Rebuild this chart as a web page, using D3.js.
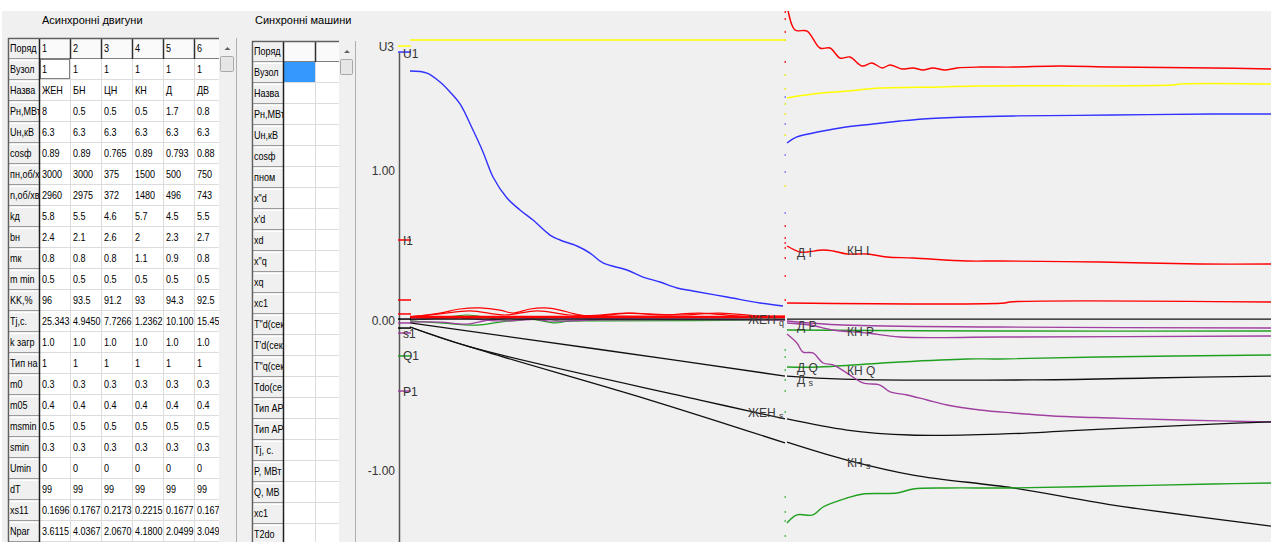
<!DOCTYPE html>
<html><head><meta charset="utf-8">
<script src="https://cdn.jsdelivr.net/npm/d3@7"></script>
<style>
body{margin:0;background:#fff;overflow:hidden}
svg{display:block;font-family:"Liberation Sans",Arial,sans-serif}
</style></head>
<body><svg id="c" width="1271" height="542"></svg>
<script>
// ---------------- TABLE DATA ----------------
const asyncTitle = "Асинхронні двигуни";
const asyncCorner = "Поряд";
const asyncCols = ["1","2","3","4","5","6"];
const asyncRowHeads = ["Вузол","Назва","Рн,МВт","Uн,кВ","cosф","пн,об/хв","n,об/хв","kд","bн","mк","m min","KK,%","Tj,c.","k загр","Тип нав","m0","m05","msmin","smin","Umin","dT","xs11","Npar"];
const asyncValues = [
  ["1","1","1","1","1","1"],
  ["ЖЕН","БН","ЦН","КН","Д","ДВ"],
  ["8","0.5","0.5","0.5","1.7","0.8"],
  ["6.3","6.3","6.3","6.3","6.3","6.3"],
  ["0.89","0.89","0.765","0.89","0.793","0.88"],
  ["3000","3000","375","1500","500","750"],
  ["2960","2975","372","1480","496","743"],
  ["5.8","5.5","4.6","5.7","4.5","5.5"],
  ["2.4","2.1","2.6","2","2.3","2.7"],
  ["0.8","0.8","0.8","1.1","0.9","0.8"],
  ["0.5","0.5","0.5","0.5","0.5","0.5"],
  ["96","93.5","91.2","93","94.3","92.5"],
  ["25.343","4.9450","7.7266","1.2362","10.100","15.455"],
  ["1.0","1.0","1.0","1.0","1.0","1.0"],
  ["1","1","1","1","1","1"],
  ["0.3","0.3","0.3","0.3","0.3","0.3"],
  ["0.4","0.4","0.4","0.4","0.4","0.4"],
  ["0.5","0.5","0.5","0.5","0.5","0.5"],
  ["0.3","0.3","0.3","0.3","0.3","0.3"],
  ["0","0","0","0","0","0"],
  ["99","99","99","99","99","99"],
  ["0.1696","0.1767","0.2173","0.2215","0.1677","0.1677"],
  ["3.6115","4.0367","2.0670","4.1800","2.0499","3.0499"]
];
const syncTitle = "Синхронні машини";
const syncCols = ["",""];
const syncRowHeads = ["Вузол","Назва","Рн,МВт","Uн,кВ","cosф","пном","x\"d","x'd","xd","x\"q","xq","xc1","T\"d(сек)","T'd(сек)","T\"q(сек)","Tdo(сек)","Тип АРВ","Тип АРВ","Tj, с.","P, МВт","Q, МВАр","xc1","T2do"];

// ---------------- CHART DATA ----------------
// time [s] , value [p.u.]; left window 0..1.5, right window 0..2
const yTicks = [-1, 0, 1];
const U3_left = [[0,1.873],[1.5,1.873]];
const U1_left = [[0,1.667],[.068,1.653],[.12,1.593],[.16,1.527],[.2,1.447],[.252,1.273],[.292,1.127],[.332,.96],[.388,.82],[.44,.74],[.492,.673],[.56,.573],[.6,.54],[.668,.5],[.72,.453],[.772,.387],[.868,.34],[.932,.293],[1.0,.26],[1.068,.22],[1.132,.2],[1.268,.16],[1.4,.12],[1.492,.1]];
const Izero_left = [[0,.027],[1.5,.027]];
const I2_left = [[0,.027],[.12,.053],[.2,.08],[.28,.087],[.36,.073],[.412,.053],[.48,.08],[.54,.087],[.6,.073],[.66,.047],[.72,.033],[.88,.053],[.96,.047],[1.08,.04],[1.24,.053],[1.4,.033],[1.5,.033]];
const I3_left = [[0,.027],[.12,.047],[.24,.067],[.38,.04],[.508,.067],[.64,.04],[.76,.033],[1.5,.027]];
const I4_left = [[0,.02],[.6,.027],[.76,.04],[.868,.053],[1.0,.04],[1.16,.053],[1.32,.033],[1.5,.027]];
const Q1_left = [[0,.007],[.12,.02],[.228,.04],[.32,.02],[.4,0],[.52,.02],[.6,0],[.76,.007],[1.5,.007]];
const Q2_left = [[0,0],[.12,-.013],[.268,-.027],[.36,-.007],[.48,.013],[.58,-.013],[.64,0],[.76,0],[1.5,.007]];
const P1_left = [[0,-.007],[.12,-.007],[.228,-.02],[.32,.007],[.44,.02],[.56,0],[.76,.007],[1.5,.007]];
const P2_left = [[0,.007],[.2,.02],[.36,0],[.52,.013],[1.5,.007]];
const q0_left = [[0,.013],[1.5,.013]];
const sD_left = [[0,-.013],[.76,-.19],[1.5,-.367]];
const sZhen_left = [[0,-.04],[.24,-.173],[1.16,-.527],[1.5,-.653]];
const sKN_left = [[0,-.04],[.24,-.173],[.96,-.527],[1.5,-.813]];

const Itop_right = [[0,2.11],[.033,1.94],[.083,1.933],[.136,1.82],[.178,1.82],[.219,1.753],[.26,1.76],[.31,1.7],[.351,1.72],[.393,1.687],[.426,1.707],[.475,1.68],[.521,1.687],[.562,1.673],[.603,1.687],[.653,1.673],[.702,1.687],[.798,1.693],[.934,1.693],[1.128,1.7],[1.347,1.693],[1.76,1.687],[2,1.68]];
const U3_right = [[0,1.487],[.107,1.513],[.248,1.533],[.384,1.553],[.632,1.56],[.798,1.567],[1.595,1.573],[1.624,1.58],[2,1.58]];
const U1_right = [[0,1.187],[.041,1.227],[.107,1.253],[.219,1.287],[.355,1.313],[.467,1.333],[.562,1.347],[.744,1.36],[.934,1.367],[1.347,1.373],[1.76,1.38],[2,1.38]];
const IDKN_right = [[0,.5],[.054,.46],[.083,.46],[.149,.473],[.19,.467],[.248,.447],[.331,.447],[.413,.427],[.521,.42],[.744,.4],[.88,.4],[1.293,.393],[1.707,.38],[2,.38]];
const Ilow_right = [[0,.12],[.9,.12],[.92,.127],[2,.127]];
const q0_right = [[0,.013],[2,.013]];
const PD_right = [[0,0],[.231,-.027],[.88,-.04],[2,-.047]];
const PKN_right = [[0,-.013],[.095,-.027],[.19,-.06],[.331,-.08],[.467,-.107],[.88,-.107],[2,-.1]];
const Qflat_right = [[0,-.06],[.88,-.067],[2,-.067]];
const QD_right = [[0,-.307],[.124,-.307],[.331,-.287],[.467,-.273],[.744,-.253],[.88,-.253],[1.293,-.24],[2,-.227]];
const sD_right = [[0,-.367],[.23,-.387],[1.0,-.393],[1.5,-.38],[2,-.367]];
const PKNbig_right = [[0,-.087],[.041,-.147],[.066,-.207],[.107,-.213],[.149,-.28],[.19,-.293],[.248,-.347],[.314,-.413],[.384,-.427],[.426,-.473],[.496,-.493],[.579,-.527],[.661,-.56],[.798,-.593],[.934,-.613],[1.099,-.633],[1.347,-.647],[1.624,-.66],[2,-.673]];
const sZhen_right = [[0,-.653],[.248,-.727],[.508,-.76],[.893,-.753],[1.157,-.733],[1.488,-.707],[1.76,-.687],[2,-.673]];
const sKN_right = [[0,-.807],[.248,-.927],[.521,-1.027],[.934,-1.113],[1.347,-1.227],[2,-1.367]];
const QKN_right = [[0,-1.347],[.041,-1.293],[.107,-1.293],[.149,-1.24],[.248,-1.18],[.314,-1.153],[.455,-1.147],[.521,-1.12],[.661,-1.113],[.934,-1.113],[1.347,-1.1],[1.76,-1.087],[2,-1.08]];

// start markers on the axis
const markerValues = [1.833, 1.793, .54, .14, .047, .013, -.013, -.047, -.08, -.233, -.467];
const markerColors = ["#ffff00","#3030ff","#ff0000","#ff0000","#ff0000","#000","#a040a0","#000","#a040a0","#20a020","#a040a0"];
const markerLabels = ["U3","U1","I1","","","","","","s1","Q1","P1"];

// dots on the window divider
const dotRed = [2.06,2.013,1.927,1.727,.633,.553,.52,.487,.42,.3,.14];
const dotYellow = [1.873,1.64,1.547,1.447,1.38,1.24,.9];
const dotBlue = [1.493,1.313,1.107,.993,.72];
const dotGreen = [-.193,-.24,-.327,-.393,-.467,-.607,-1.173,-1.273,-1.333,-1.433];

// curve labels : [window, time, value, main, sub]
const curveLabels = [
  ["L",1.352,.013,"ЖЕН ","q"],
  ["R",.041,.46,"Д I",""],
  ["R",.248,.473,"КН I",""],
  ["R",.041,-.027,"Д P",""],
  ["R",.248,-.067,"КН P",""],
  ["R",.041,-.313,"Д Q",""],
  ["R",.248,-.333,"КН Q",""],
  ["R",.041,-.393,"Д ","s"],
  ["L",1.352,-.607,"ЖЕН ","s"],
  ["R",.248,-.94,"КН ","s"]
];

// ---------------- DRAW ----------------
const svg = d3.select("#c");
svg.append("rect").attr("width",1271).attr("height",542).attr("fill","#fff");
svg.append("rect").attr("x",2).attr("y",11).attr("width",1269).attr("height",531).attr("fill","#f0f0f0");

svg.append("text").attr("x",42).attr("y",24).attr("font-size",11).attr("fill","#000").text(asyncTitle);
svg.append("text").attr("x",255).attr("y",24).attr("font-size",11).attr("fill","#000").text(syncTitle);

const SX = 0.87; // horizontal squeeze of the table font
function drawTable(o){
  const g = svg.append("g");
  const colX=[o.x0+o.hw];
  o.cws.forEach(w=>colX.push(colX[colX.length-1]+w));
  const nR = o.rowHeads.length+1;
  const rh=o.rh, bottom=542;
  g.append("rect").attr("x",o.x0).attr("y",o.y0).attr("width",o.scrollX-o.x0).attr("height",bottom-o.y0).attr("fill","#fff");
  function cell(x,y,w,h,txt,opt){
    w=Math.min(w,o.scrollX-x);
    const s=g.append("svg").attr("x",x).attr("y",y).attr("width",w).attr("height",h);
    if(opt.fill) s.append("rect").attr("width",w).attr("height",h).attr("fill",opt.fill);
    if(opt.bevel){
      s.append("path").attr("d",`M1.5,${h-1}V1.5H${w-1}`).attr("stroke","#fff").attr("fill","none");
      s.append("path").attr("d",`M0.5,${h-0.5}H${w-0.5}`).attr("stroke","#9a9a9a").attr("fill","none");
    }
    if(txt){
      const tx=2;
      const t=s.append("text").attr("transform",`translate(${tx},${h/2+3.7}) scale(${SX},1)`)
        .attr("font-size",opt.fs||10.4).attr("fill","#000").text(txt);
      let str=txt;
      while(str.length>1 && t.node().getComputedTextLength()*SX > w-tx+1){
        str=str.slice(0,-1); t.text(str);
      }
    }
    return s;
  }
  // row heads
  cell(o.x0,o.y0,o.hw,rh,o.corner,{fill:"#f0f0f0",bevel:true});
  o.rowHeads.forEach((t,i)=>cell(o.x0,o.y0+(i+1)*rh,o.hw,rh,t,{fill:"#f0f0f0",bevel:true}));
  // header row
  o.colHeads.forEach((t,j)=>cell(colX[j],o.y0,o.cws[j],rh,t,{fill:"#fafafa"}));
  // data
  o.rowHeads.forEach((rname,i)=>{
    o.cws.forEach((w,j)=>{
      const v=o.values?o.values[i][j]:"";
      const sel = o.selected && o.selected[0]===i && o.selected[1]===j;
      cell(colX[j],o.y0+(i+1)*rh,w,rh,v,{fill:sel?"#3399ff":"#fff"});
    });
  });
  // grid
  for(let i=1;i<=nR;i++){
    const yy=o.y0+i*rh-0.5;
    g.append("line").attr("x1",colX[0]).attr("x2",o.scrollX).attr("y1",yy).attr("y2",yy)
      .attr("stroke", i===1?"#808080":"#dcdcdc");
  }
  colX.slice(1).forEach(xx=>{
    if(xx>=o.scrollX) return;
    g.append("line").attr("x1",xx-0.5).attr("x2",xx-0.5).attr("y1",o.y0+rh).attr("y2",bottom).attr("stroke","#dcdcdc");
    g.append("line").attr("x1",xx-0.5).attr("x2",xx-0.5).attr("y1",o.y0).attr("y2",o.y0+rh).attr("stroke","#303030").attr("stroke-width",1.5);
  });
  g.append("line").attr("x1",colX[0]-0.5).attr("x2",colX[0]-0.5).attr("y1",o.y0).attr("y2",bottom).attr("stroke","#202020").attr("stroke-width",1.5);
  g.append("line").attr("x1",o.x0+0.5).attr("x2",o.x0+0.5).attr("y1",o.y0).attr("y2",bottom).attr("stroke","#606060").attr("stroke-width",1.5);
  g.append("line").attr("x1",o.x0).attr("x2",o.scrollX).attr("y1",o.y0+0.5).attr("y2",o.y0+0.5).attr("stroke","#606060").attr("stroke-width",1.5);
  // focus
  if(o.focus){
    const [fi,fj]=o.focus;
    g.append("rect").attr("x",colX[fj]+0.5).attr("y",o.y0+(fi+1)*rh+0.5).attr("width",o.cws[fj]-2).attr("height",rh-2)
      .attr("fill","none").attr("stroke","#000").attr("stroke-dasharray","1,1");
  }
  // scrollbar
  g.append("rect").attr("x",o.scrollX).attr("y",o.y0).attr("width",o.scrollW).attr("height",bottom-o.y0).attr("fill","#f0f0f0");
  g.append("line").attr("x1",o.scrollX+o.scrollW+0.5).attr("x2",o.scrollX+o.scrollW+0.5).attr("y1",o.y0).attr("y2",bottom).attr("stroke","#b0b0b0");
  const cx=o.scrollX+o.scrollW/2;
  g.append("path").attr("d",`M${cx-3},${o.y0+12}L${cx},${o.y0+9}L${cx+3},${o.y0+12}Z`).attr("fill","#606060");
  g.append("rect").attr("x",o.scrollX+1.5).attr("y",o.y0+18.5).attr("width",o.scrollW-4).attr("height",15)
    .attr("fill","#e6e6e6").attr("stroke","#a8a8a8").attr("rx",1);
}

drawTable({x0:8,y0:38,hw:32,rh:21,cws:[31,31,31,31,31,31],scrollX:219,scrollW:17,
  corner:asyncCorner,colHeads:asyncCols,rowHeads:asyncRowHeads,values:asyncValues,focus:[0,0]});
drawTable({x0:252,y0:41,hw:32,rh:21,cws:[32,32],scrollX:339,scrollW:16,
  corner:asyncCorner,colHeads:syncCols,rowHeads:syncRowHeads,values:null,selected:[0,0]});

// chart
const y = d3.scaleLinear().domain([-1,1]).range([471,171]);
const xL = d3.scaleLinear().domain([0,1.5]).range([410,785]);
const xR = d3.scaleLinear().domain([0,2]).range([787,1271]);
const axisX = 399;

svg.append("clipPath").attr("id","plot").append("rect").attr("x",axisX).attr("y",11).attr("width",1271-axisX).attr("height",531);
const plot = svg.append("g").attr("clip-path","url(#plot)");

const RED="#ff0000", BLUE="#3030ff", YEL="#ffff00", GRN="#20a020", PUR="#a040a0", BLK="#101010";
const series = [
  [U3_left,"L",YEL,1.4],[U1_left,"L",BLUE,1.4],
  [Q1_left,"L",GRN,1.2],[Q2_left,"L",GRN,1.2],[P1_left,"L",PUR,1.2],[P2_left,"L",PUR,1.2],
  [I2_left,"L",RED,1.2],[I3_left,"L",RED,1.2],[I4_left,"L",RED,1.2],[Izero_left,"L",RED,2.4],
  [q0_left,"L",BLK,1.2],[sD_left,"L",BLK,1.3],[sZhen_left,"L",BLK,1.3],[sKN_left,"L",BLK,1.3],
  [Itop_right,"R",RED,1.4],[U3_right,"R",YEL,1.4],[U1_right,"R",BLUE,1.4],[IDKN_right,"R",RED,1.4],
  [Ilow_right,"R",RED,1.4],[q0_right,"R",BLK,1.3],[Qflat_right,"R",GRN,1.4],[PD_right,"R",PUR,1.4],
  [PKN_right,"R",PUR,1.4],[QD_right,"R",GRN,1.4],[sD_right,"R",BLK,1.3],[PKNbig_right,"R",PUR,1.4],
  [sZhen_right,"R",BLK,1.3],[sKN_right,"R",BLK,1.3],[QKN_right,"R",GRN,1.4]
];
series.forEach(([pts,w,col,sw])=>{
  const xs = w==="L"?xL:xR;
  plot.append("path").datum(pts).attr("fill","none").attr("stroke",col).attr("stroke-width",sw)
    .attr("stroke-linejoin","round")
    .attr("d",d3.line().curve(d3.curveCatmullRom.alpha(0.5)).x(d=>xs(d[0])).y(d=>y(d[1])));
});

// divider dots
const divX = xL(1.5);
[[dotRed,RED],[dotYellow,"#e6e600"],[dotBlue,"#7070ff"],[dotGreen,"#40b040"]].forEach(([arr,col])=>{
  plot.selectAll(null).data(arr).enter().append("rect").attr("x",divX-0.5).attr("y",d=>y(d)-1)
    .attr("width",1.5).attr("height",2).attr("fill",col).attr("opacity",0.8);
});

// axis
const ax = svg.append("g").attr("transform",`translate(${axisX},0)`)
  .call(d3.axisLeft(y).tickValues(yTicks).tickFormat(d=>d.toFixed(2)).tickSize(0).tickPadding(4));
ax.select(".domain").remove();
ax.selectAll("text").attr("font-size",12).attr("fill","#333").attr("font-family","Liberation Sans, Arial, sans-serif");
svg.append("line").attr("x1",axisX+0.5).attr("x2",axisX+0.5).attr("y1",y(1.787)).attr("y2",542)
  .attr("stroke","#555").attr("stroke-width",1.5);

// start markers
markerValues.forEach((v,i)=>{
  svg.append("line").attr("x1",axisX-1).attr("x2",xL(0)+1).attr("y1",y(v)).attr("y2",y(v))
    .attr("stroke",markerColors[i]).attr("stroke-width",1.5);
  const lab = markerLabels[i];
  if(!lab) return;
  if(lab==="U3"){
    svg.append("text").attr("x",axisX-5).attr("y",y(v)+5).attr("text-anchor","end")
      .attr("font-size",12).attr("fill","#333").text(lab);
  } else {
    svg.append("text").attr("x",axisX+4).attr("y",y(v)+ (lab==="U1"?6:4.5))
      .attr("font-size",12).attr("fill","#333").text(lab);
  }
});

// curve labels
curveLabels.forEach(([w,t,v,main,sub])=>{
  const xs = w==="L"?xL:xR;
  const tx = svg.append("text").attr("x",xs(t)).attr("y",y(v)+4.5).attr("font-size",12).attr("fill","#3a3a3a").text(main);
  if(sub) tx.append("tspan").attr("font-size",9).attr("dy",2).text(sub);
});
</script>
</body></html>
